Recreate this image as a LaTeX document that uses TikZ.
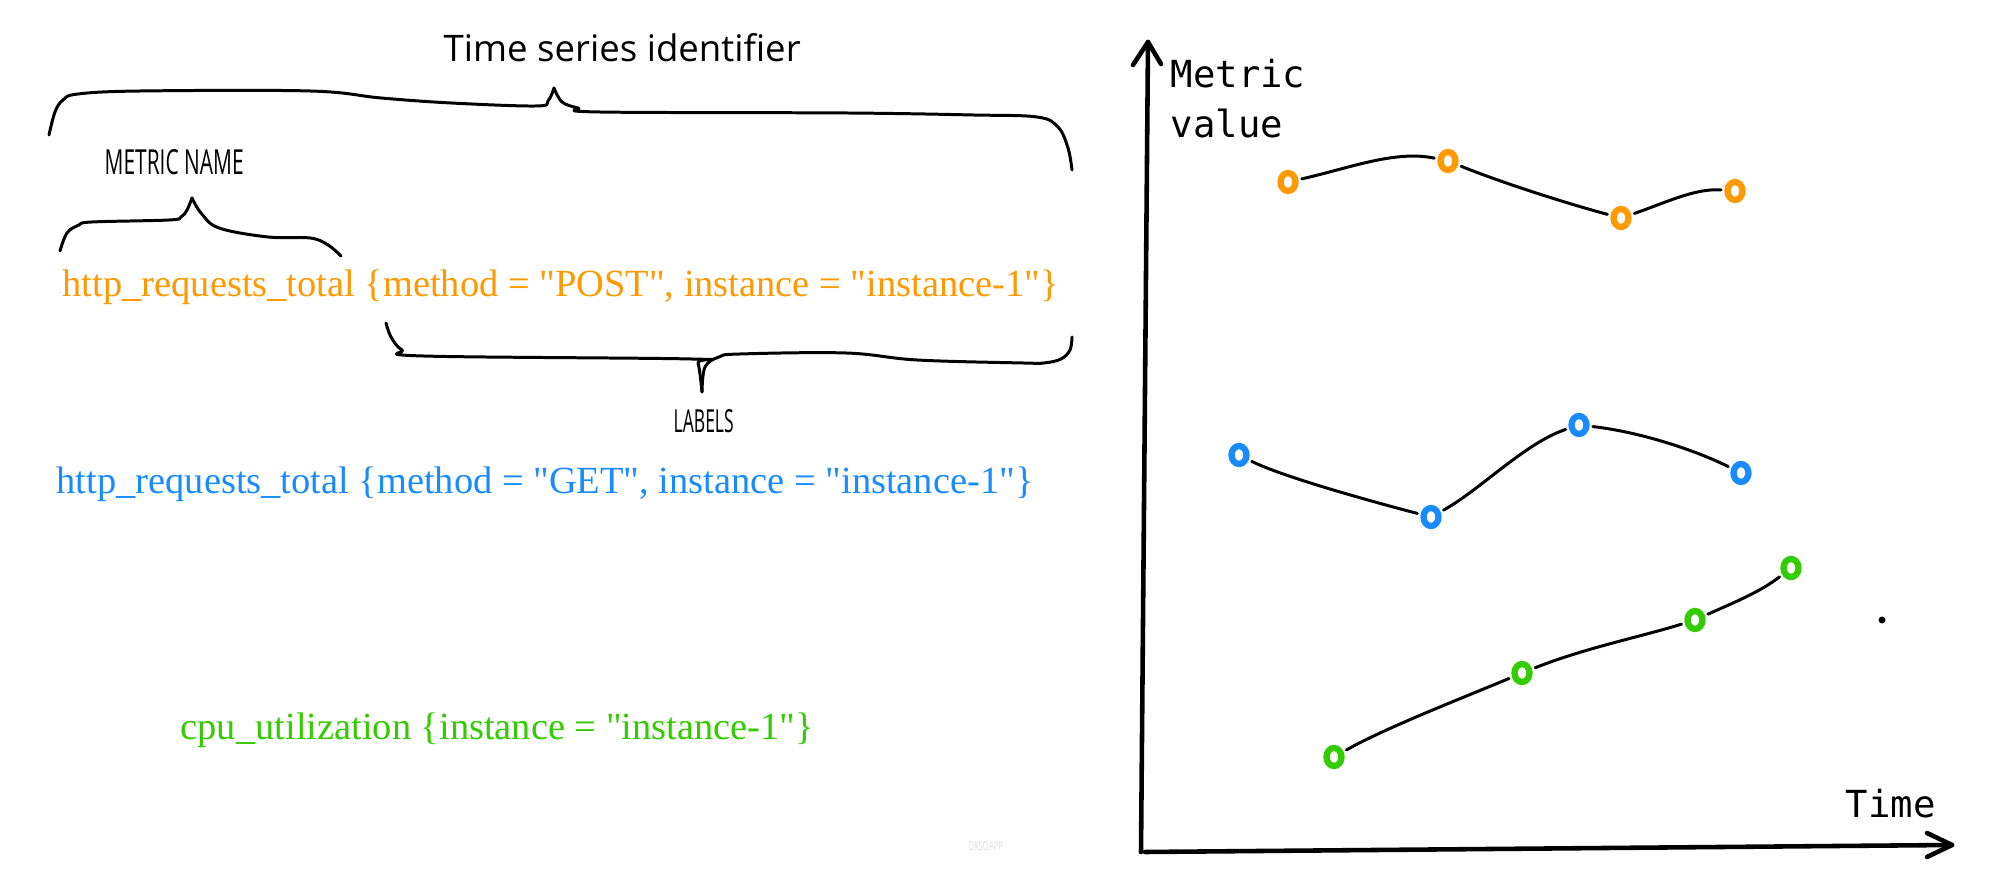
\documentclass[tikz,border=0pt]{standalone}
\usepackage{fontspec}
\usepackage{graphicx}
\usetikzlibrary{shapes.geometric}
\setmainfont{Liberation Serif}[Ligatures=TeXOff]
\newfontfamily\labelsans{Open Sans}
\newfontfamily\axismono{DejaVu Sans Mono}
\newlength\px
\setlength\px{0.01cm}
\newcommand\us{\string_}
\definecolor{seriesorange}{RGB}{255,153,0}
\definecolor{seriesblue}{RGB}{24,140,255}
\definecolor{seriesgreen}{RGB}{51,204,0}

\begin{document}
\begin{tikzpicture}[x=0.01cm,y=-0.01cm,
  ident/.style={anchor=base west, inner sep=0, font=\fontsize{10.93}{13}\selectfont},
  hand/.style={anchor=base west, inner sep=0},
  axislabel/.style={anchor=base west, inner sep=0, font=\axismono\fontsize{10.6}{14.2}\selectfont},
  brace/.style={line width=0.85pt, line cap=round, line join=round},
  axisline/.style={line width=1.3pt, line cap=round, line join=round},
  trend/.style={line width=0.85pt, line cap=round, shorten <=6.5\px, shorten >=6.5\px},
  sample/.style={ellipse, draw=#1, line width=1.8pt, minimum width=15\px,
    minimum height=18\px, inner sep=0, outer sep=0},
]
\fill[white] (0,0) rectangle (2000,874);
\useasboundingbox (0,0) rectangle (2000,874);

% ---- series identifiers ----
\node[hand] (title) at (443,62)
  {\resizebox{357\px}{!}{\labelsans Time series identifier}};
\node[hand] (mname) at (104,175)
  {\resizebox{139\px}{25\px}{\labelsans METRIC NAME}};
\node[hand] (lbls) at (673,433)
  {\resizebox{60\px}{23\px}{\labelsans LABELS}};

\node[ident, text=seriesorange] (idpost) at (62,297)
  {http\us requests\us total \{method = "POST", instance = "instance-1"\}};
\node[ident, text=seriesblue] (idget) at (56,494)
  {http\us requests\us total \{method = "GET", instance = "instance-1"\}};
\node[ident, text=seriesgreen] (idcpu) at (180,740)
  {cpu\us utilization \{instance = "instance-1"\}};

% whole identifier
\draw[brace] plot[smooth, tension=0.6] coordinates {(49,135) (55,112) (63,100) (78,94) (141,91) (310,91) (381,98) (451,103) (536,106) (548,101) (554,88)};
\draw[brace] plot[smooth, tension=0.6] coordinates {(554,88) (562,102) (578,108) (599,112) (846,113) (973,115) (1037,117) (1058,127) (1068,148) (1072,170)};
% metric name
\draw[brace] plot[smooth, tension=0.6] coordinates {(60,251) (67,233) (79,225) (92,222) (169,220) (181,217) (187,210) (192,198)};
\draw[brace] plot[smooth, tension=0.6] coordinates {(192,198) (201,213) (219,228) (268,237) (310,238) (328,245) (341,256)};
% labels
\draw[brace] plot[smooth, tension=0.6] coordinates {(386,323) (391,337) (402,350) (423,356) (691,359) (698,363) (702,392)};
\draw[brace] plot[smooth, tension=0.6] coordinates {(702,392) (705,367) (719,357) (740,354) (846,353) (917,360) (1023,363) (1044,363) (1061,359) (1070,350) (1072,337)};

% ---- chart ----
\coordinate (origin) at (1141,852);
\coordinate (ytop) at (1148,42);
\coordinate (xend) at (1952,845);
\draw[axisline] (origin) -- (ytop);
\draw[axisline] ([xshift=4\px]origin) -- (xend);
\draw[axisline] (1133,65) -- (ytop) -- (1161,64);
\draw[axisline] (1927,833) -- (xend) -- (1927,857);

\node[axislabel] (ylab1) at (1170,88) {Metric};
\node[axislabel] (ylab2) at (1170,138) {value};
\node[axislabel] (xlab) at (1845,818) {Time};

% orange series
\node[sample=seriesorange] (o1) at (1288,182) {};
\node[sample=seriesorange] (o2) at (1448,161) {};
\node[sample=seriesorange] (o3) at (1621,218) {};
\node[sample=seriesorange] (o4) at (1735,191) {};
\draw[trend] (o1) .. controls (1350,168) and (1395,150) .. (o2);
\draw[trend] (o2) .. controls (1500,182) and (1565,203) .. (o3);
\draw[trend] (o3) .. controls (1665,203) and (1695,188) .. (o4);

% blue series
\node[sample=seriesblue] (b1) at (1239,455) {};
\node[sample=seriesblue] (b2) at (1431,517) {};
\node[sample=seriesblue] (b3) at (1579,425) {};
\node[sample=seriesblue] (b4) at (1741,473) {};
\draw[trend] (b1) .. controls (1285,478) and (1385,505) .. (b2);
\draw[trend] (b2) .. controls (1480,490) and (1525,443) .. (b3);
\draw[trend] (b3) .. controls (1640,432) and (1695,450) .. (b4);

% green series
\node[sample=seriesgreen] (g1) at (1334,757) {};
\node[sample=seriesgreen] (g2) at (1522,673) {};
\node[sample=seriesgreen] (g3) at (1695,620) {};
\node[sample=seriesgreen] (g4) at (1791,568) {};
\draw[trend] (g1) .. controls (1385,728) and (1465,697) .. (g2);
\draw[trend] (g2) .. controls (1585,648) and (1640,637) .. (g3);
\draw[trend] (g3) .. controls (1735,602) and (1760,592) .. (g4);

\fill (1882,620) circle (3.5);

\node[hand, text=black!14] (mark) at (968,851)
  {\resizebox{34\px}{9\px}{\labelsans OKSO.APP}};
\end{tikzpicture}
\end{document}
